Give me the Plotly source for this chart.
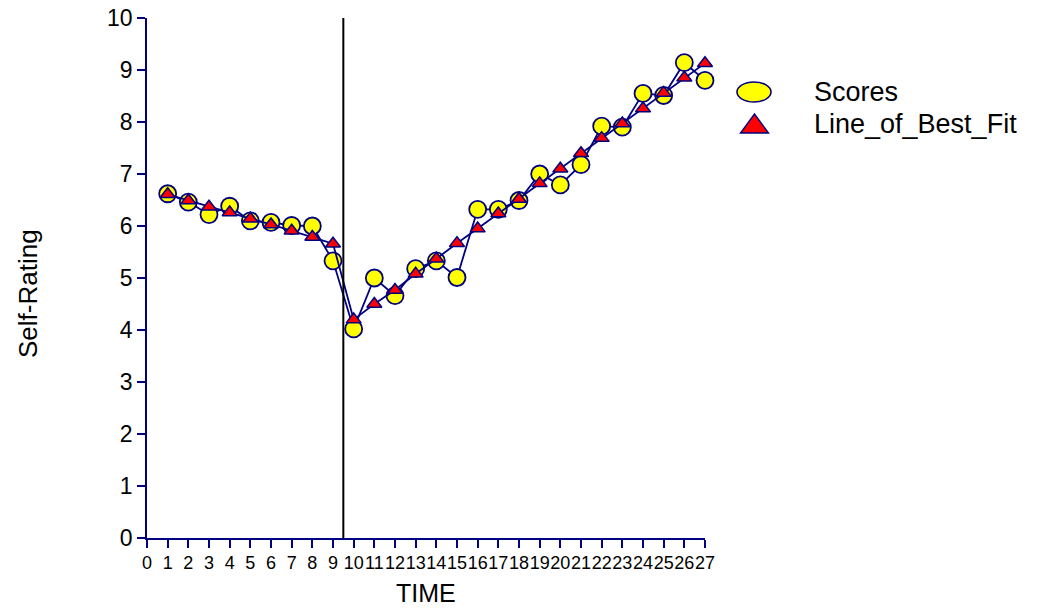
import plotly.graph_objects as go

# ---- data ----
time_points = list(range(1, 28))
scores = [6.62, 6.46, 6.22, 6.38, 6.10, 6.07, 6.01, 6.00, 5.33, 4.02,
          5.00, 4.66, 5.18, 5.33, 5.01, 6.32, 6.32, 6.49, 7.00, 6.79,
          7.18, 7.92, 7.90, 8.55, 8.51, 9.14, 8.80]
line_of_best_fit = [6.61, 6.49, 6.37, 6.26, 6.14, 6.03, 5.91, 5.79, 5.66, 4.20,
                    4.50, 4.77, 5.08, 5.37, 5.67, 5.95, 6.24, 6.52, 6.82, 7.10,
                    7.40, 7.69, 7.97, 8.26, 8.56, 8.85, 9.13]
phase_change = 9.5
x_ticks = list(range(0, 28))
y_ticks = list(range(0, 11))
series_names = ["Scores", "Line_of_Best_Fit"]

NAVY = "#000080"
FONT = "Arial, Liberation Sans, sans-serif"

fig = go.Figure()
fig.add_trace(go.Scatter(
    x=time_points, y=scores, mode="lines+markers", name=series_names[0],
    line=dict(color=NAVY, width=1.8),
    marker=dict(symbol="circle", size=17, color="#FFFF00",
                line=dict(color=NAVY, width=1.8)),
    cliponaxis=False, showlegend=False))
fig.add_trace(go.Scatter(
    x=time_points, y=line_of_best_fit, mode="lines+markers", name=series_names[1],
    line=dict(color=NAVY, width=1.8),
    marker=dict(symbol="triangle-up", size=13, color="#FF0000",
                line=dict(color=NAVY, width=1.5)),
    cliponaxis=False, showlegend=False))

# phase change line
fig.add_shape(type="line", xref="x", yref="y", x0=phase_change, x1=phase_change,
              y0=y_ticks[0], y1=y_ticks[-1], line=dict(color="black", width=2))

# manual legend
L, R, T, B = 147, 353, 18, 72
PW, PH = 1058 - L - R, 610 - T - B
def px(xp):
    return (xp - L) / PW
def py(yp):
    return (610 - B - yp) / PH

fig.add_shape(type="circle", xref="paper", yref="paper",
              xsizemode="pixel", ysizemode="pixel",
              xanchor=px(754), yanchor=py(92),
              x0=-17, x1=17, y0=-10, y1=10,
              fillcolor="#FFFF00", line=dict(color=NAVY, width=1.6))
fig.add_shape(type="path", xref="paper", yref="paper",
              xsizemode="pixel", ysizemode="pixel",
              xanchor=px(754.5), yanchor=py(124),
              path="M -14,-9 L 14,-9 L 0,10 Z",
              fillcolor="#FF0000", line=dict(color=NAVY, width=1.4))
for name, yy in zip(series_names, [92, 124]):
    fig.add_annotation(text=name, xref="paper", yref="paper", x=px(812), y=py(yy),
                       xanchor="left", yanchor="middle", showarrow=False,
                       font=dict(family=FONT, size=27, color="black"))

# axis titles
fig.add_annotation(text="Self-Rating", xref="paper", yref="paper",
                   x=px(28), y=py(294), textangle=-90, showarrow=False,
                   xanchor="center", yanchor="middle",
                   font=dict(family=FONT, size=26, color="black"))
fig.add_annotation(text="TIME", xref="paper", yref="paper",
                   x=px(426), y=py(593), showarrow=False,
                   xanchor="center", yanchor="middle",
                   font=dict(family=FONT, size=25, color="black"))

fig.update_xaxes(range=[0, 27], tickmode="array", tickvals=x_ticks,
                 ticktext=[str(t) for t in x_ticks], tickangle=0, automargin=False,
                 showline=True, linecolor=NAVY, linewidth=1.6,
                 ticks="outside", ticklen=8, tickcolor=NAVY, tickwidth=1.6,
                 showgrid=False, zeroline=False,
                 tickfont=dict(family="Liberation Sans Narrow, Arial Narrow, Liberation Sans, sans-serif",
                               size=18, color="black"))
fig.update_yaxes(range=[0, 10], tickmode="array", tickvals=y_ticks, automargin=False,
                 showline=True, linecolor=NAVY, linewidth=1.6,
                 ticks="outside", ticklen=8, tickcolor=NAVY, tickwidth=1.6,
                 showgrid=False, zeroline=False,
                 tickfont=dict(family=FONT, size=23, color="black"))

fig.update_layout(width=1058, height=610,
                  margin=dict(l=L, r=R, t=T, b=B),
                  paper_bgcolor="white", plot_bgcolor="white",
                  showlegend=False)

fig.write_html("out.html")
